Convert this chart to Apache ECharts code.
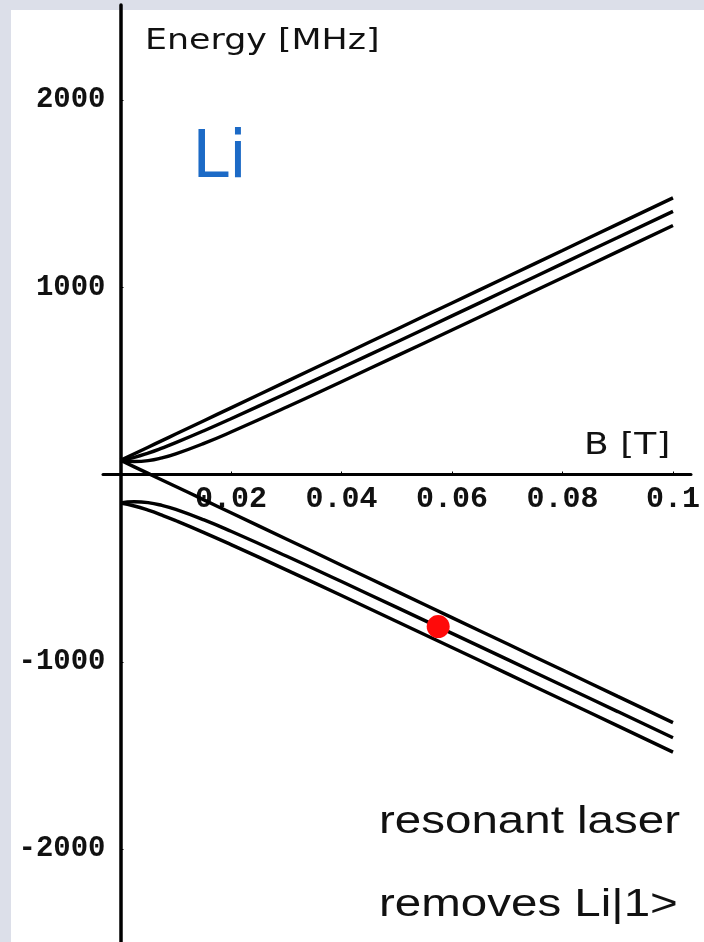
<!DOCTYPE html>
<html>
<head>
<meta charset="utf-8">
<script src="https://cdn.jsdelivr.net/npm/echarts@6/dist/echarts.min.js"></script>
<style>
  html, body { margin: 0; padding: 0; width: 704px; height: 942px; overflow: hidden; background: #dcdfe9; }
  #paper { position: absolute; left: 11px; top: 10px; right: 0; bottom: 0; background: #ffffff; }
  #chart { position: absolute; left: 0; top: 0; width: 704px; height: 942px; }
</style>
</head>
<body>
<div id="paper"></div>
<div id="chart"></div>
<script>
// Magnetic field samples [T]
const fieldT = [0, 0.0025, 0.005, 0.0075, 0.01, 0.015, 0.02, 0.03, 0.04, 0.05, 0.06, 0.07, 0.08, 0.09, 0.1];

// Ground-state Zeeman levels of Li [MHz]
const upperA = [76, 111, 146, 181, 216, 286, 356, 496, 636, 776, 916, 1056, 1196, 1337, 1477];
const upperB = [76, 92, 114.5, 141, 170, 232.5, 298, 433, 570, 708, 847, 986.5, 1126, 1265.5, 1405];
const upperC = [76, 69.6, 74.2, 88.8, 110.3, 165, 227, 359, 495.6, 633.5, 772, 911, 1050.7, 1190, 1330];
const lowerA = [76, 41, 6, -29, -64, -134, -204, -344, -484, -624, -764, -904, -1044, -1184.5, -1324.5];
const lowerB = [-152, -145.6, -150.3, -164.8, -186.3, -241, -303, -435, -571.4, -709.3, -848, -987, -1126.3, -1265.8, -1405.4];
const lowerC = [-152, -168.1, -190.5, -217.1, -246.2, -308.6, -374.1, -509, -646.3, -784.8, -923.7, -1063, -1202.5, -1342.1, -1482];

// Laser resonance marker [T, MHz]
const laserPoint = [0.0575, -812];

// Tick labels
const xTicks = [0.02, 0.04, 0.06, 0.08, 0.1];
const yTicks = [-2000, -1000, 1000, 2000];

// Axis ranges
const bRange = [-0.00317, 0.10326];
const eRange = [-2496, 2507];

const levels = [upperA, upperB, upperC, lowerA, lowerB, lowerC];
const pair = (ys) => fieldT.map((b, i) => [b, ys[i]]);

const tickFont = (size) => ({
  fontFamily: '"Liberation Mono", monospace',
  fontWeight: 'bold',
  fontSize: size,
  color: '#111'
});

const hidden = { show: false };
const bareAxis = (gridIndex, range) => ({
  type: 'value', gridIndex, min: range[0], max: range[1],
  axisLine: hidden, axisTick: hidden, axisLabel: hidden, splitLine: hidden
});

const chart = echarts.init(document.getElementById('chart'), null, { renderer: 'canvas' });

chart.setOption({
  backgroundColor: 'transparent',
  animation: false,
  grid: [
    // plotting area; axis lines cross at the origin
    { left: 103, right: 13, top: 5, bottom: 0, containLabel: false, outerBoundsMode: 'none' },
    // carries the field labels along the line E = 0
    { left: 103, right: 13, top: 5, bottom: 467.5, containLabel: false, outerBoundsMode: 'none' },
    // carries the energy labels along the line B = 0
    { left: 120.5, right: 13, top: 5, bottom: 0, containLabel: false, outerBoundsMode: 'none' }
  ],
  xAxis: [
    {
      type: 'value', gridIndex: 0, min: bRange[0], max: bRange[1],
      axisLine: { onZero: true, lineStyle: { color: '#000', width: 3 } },
      axisTick: hidden, axisLabel: hidden, splitLine: hidden
    },
    {
      type: 'value', gridIndex: 1, position: 'bottom', min: bRange[0], max: bRange[1],
      axisLine: { show: false, onZero: false },
      axisTick: { show: true, inside: true, length: 3, customValues: xTicks, lineStyle: { color: '#000', width: 1 } },
      axisLabel: Object.assign({ customValues: xTicks, margin: 10, formatter: (v) => String(v) }, tickFont(30)),
      splitLine: hidden
    },
    bareAxis(2, [0, bRange[1]])
  ],
  yAxis: [
    {
      type: 'value', gridIndex: 0, min: eRange[0], max: eRange[1],
      axisLine: { onZero: true, lineStyle: { color: '#000', width: 3.5 } },
      axisTick: hidden, axisLabel: hidden, splitLine: hidden
    },
    bareAxis(1, [0, eRange[1]]),
    {
      type: 'value', gridIndex: 2, position: 'left', min: eRange[0], max: eRange[1],
      axisLine: { show: false, onZero: false },
      axisTick: { show: true, inside: true, length: 3, customValues: yTicks, lineStyle: { color: '#000', width: 1 } },
      axisLabel: Object.assign({ customValues: yTicks, margin: 15, formatter: (v) => String(v) }, tickFont(29)),
      splitLine: hidden
    }
  ],
  series: levels.map((ys) => ({
    type: 'line',
    xAxisIndex: 0,
    yAxisIndex: 0,
    data: pair(ys),
    smooth: true,
    showSymbol: false,
    lineStyle: { color: '#000', width: 3.4 },
    z: 3
  })).concat([{
    type: 'scatter',
    xAxisIndex: 0,
    yAxisIndex: 0,
    data: [laserPoint],
    symbol: 'circle',
    symbolSize: 23,
    itemStyle: { color: '#ff0a0a', opacity: 1 },
    z: 5
  }]),
  graphic: [
    { type: 'text', x: 145, y: 41, scaleX: 1.2,
      style: { text: 'Energy [MHz]', font: '29px "DejaVu Sans"', fill: '#111', verticalAlign: 'middle', textAlign: 'left' } },
    { type: 'text', x: 192, y: 160,
      style: { text: 'Li', font: '66px "DejaVu Sans"', fill: '#1c6ac6', verticalAlign: 'middle', textAlign: 'left' } },
    { type: 'text', x: 584, y: 446, scaleX: 1.2,
      style: { text: 'B [T]', font: '30px "DejaVu Sans"', fill: '#111', verticalAlign: 'middle', textAlign: 'left' } },
    { type: 'text', x: 379, y: 823, scaleX: 1.25,
      style: { text: 'resonant laser', font: '38px "Liberation Sans"', fill: '#111', verticalAlign: 'middle', textAlign: 'left' } },
    { type: 'text', x: 379, y: 906, scaleX: 1.25,
      style: { text: 'removes Li|1>', font: '38px "Liberation Sans"', fill: '#111', verticalAlign: 'middle', textAlign: 'left' } }
  ]
});
</script>
</body>
</html>
